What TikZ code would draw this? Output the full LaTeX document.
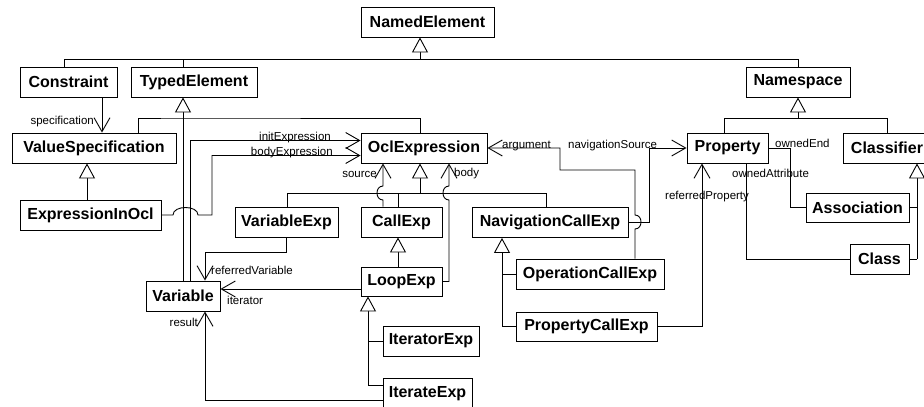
\documentclass[tikz,border=0pt]{standalone}
\usepackage{fontspec}
\setmainfont{Liberation Sans}
\usetikzlibrary{arrows.meta}
\begin{document}
\begin{tikzpicture}[x=1pt,y=-1pt,
  cls/.style={draw, line width=0.9pt, minimum height=30pt, inner sep=0pt, font=\fontsize{16}{19}\selectfont\bfseries},
  lbl/.style={inner sep=0pt, font=\fontsize{11.5}{13}\selectfont},
  ln/.style={draw, line width=0.9pt},
  gen/.style={ln, -{Triangle[length=15pt,width=16pt,fill=white]}},
  nav/.style={ln, -{Straight Barb[length=14pt,width=16pt]}}]
\useasboundingbox (0,0) rectangle (924,407);
\clip (0,0) rectangle (924,407);
% classes
\node[cls,minimum width=133pt] (NamedElement) at (427.5,22) {NamedElement};
\node[cls,minimum width=97pt] (Constraint) at (68.5,82) {Constraint};
\node[cls,minimum width=126pt] (TypedElement) at (194,82) {TypedElement};
\node[cls,minimum width=104pt] (Namespace) at (798,82) {Namespace};
\node[cls,minimum width=164pt] (ValueSpecification) at (94,148) {ValueSpecification};
\node[cls,minimum width=126pt] (OclExpression) at (424,148) {OclExpression};
\node[cls,minimum width=81pt] (Property) at (727.5,148) {Property};
\node[cls,minimum width=88pt] (Classifier) at (887,148) {Classifier};
\node[cls,minimum width=141pt] (ExpressionInOcl) at (90.5,215) {ExpressionInOcl};
\node[cls,minimum width=103pt] (VariableExp) at (286.5,222) {VariableExp};
\node[cls,minimum width=81pt] (CallExp) at (401.5,222) {CallExp};
\node[cls,minimum width=156pt] (NavigationCallExp) at (550,222.5) {NavigationCallExp};
\node[cls,minimum width=103pt,minimum height=29pt] (Association) at (857.5,207.5) {Association};
\node[cls,minimum width=59pt] (Class) at (879.5,259) {Class};
\node[cls,minimum width=148pt] (OperationCallExp) at (590,274) {OperationCallExp};
\node[cls,minimum width=81pt,minimum height=29pt] (LoopExp) at (401.5,281.5) {LoopExp};
\node[cls,minimum width=74pt] (Variable) at (183,296) {Variable};
\node[cls,minimum width=141pt,minimum height=29pt] (PropertyCallExp) at (586.5,326.5) {PropertyCallExp};
\node[cls,minimum width=96pt] (IteratorExp) at (431,341) {IteratorExp};
\node[cls,minimum width=89pt] (IterateExp) at (427.5,393.5) {IterateExp};
% junctions
\coordinate (jNE) at (420,59);
\coordinate (jTE) at (183,118);
\coordinate (jNS) at (798,118);
\coordinate (jOE) at (420,193);
\coordinate (jLE) at (368,385);
\coordinate (jNC) at (502,326.5);
\coordinate (jCL) at (917,259);
% NamedElement generalization
\draw[ln] ([xshift=-4.5]Constraint.north) -- (64,59) -- (798,59) -- (Namespace.north);
\draw[ln] ([xshift=-11]TypedElement.north) -- (183,59);
\draw[gen] (jNE) -- ([xshift=-7.5]NamedElement.south);
% TypedElement generalization
\draw[gen] (Variable.north) -- ([xshift=-11]TypedElement.south);
\draw[ln] ([xshift=44]ValueSpecification.north) -- (138,118) -- (jTE) -- (420,118) -- ([xshift=-4]OclExpression.north);
% Namespace generalization
\draw[gen] (jNS) -- (Namespace.south);
\draw[ln] ([xshift=-3.5]Property.north) -- (724,118) -- (887,118) -- (Classifier.north);
% specification
\draw[nav] ([xshift=33.5]Constraint.south) -- ([xshift=8]ValueSpecification.north);
\node[lbl,anchor=east] at (94,122) {specification};
% ExpressionInOcl generalization
\draw[gen] ([xshift=-3.5]ExpressionInOcl.north) -- ([xshift=-7]ValueSpecification.south);
% initExpression
\draw[nav] ([xshift=7]Variable.north) -- (190,140.5) -- ([yshift=7.5]OclExpression.west);
\node[lbl,anchor=base east] at (331,140.5) {initExpression};
% bodyExpression
\draw[nav] (ExpressionInOcl.east) -- (173,215) .. controls (173,205) and (198,205) .. (198,215) -- (212,215) -- (212,155.5) -- ([yshift=-7.5]OclExpression.west);
\node[lbl,anchor=base east] at (333,155.5) {bodyExpression};
% OclExpression generalization
\draw[gen] (jOE) -- ([xshift=-4]OclExpression.south);
\draw[ln] ([xshift=0.5]VariableExp.north) -- (287,193) -- (546,193) -- ([xshift=-4]NavigationCallExp.north);
\draw[ln] ([xshift=-3.5]CallExp.north) -- (398,193);
% source
\draw[nav] ([xshift=-18.5]CallExp.north) -- (383,200) .. controls (375,200) and (375,186) .. (383,186) -- ([xshift=-41]OclExpression.south);
\node[lbl,anchor=east] at (377,174) {source};
% body
\draw[nav] (LoopExp.east) -- (449,281.5) -- (449,200) .. controls (441,200) and (441,186) .. (449,186) -- ([xshift=25]OclExpression.south);
\node[lbl,anchor=west] at (454,174) {body};
% CallExp generalization
\draw[gen] ([xshift=-3.5]LoopExp.north) -- ([xshift=-3.5]CallExp.south);
% referredVariable
\draw[nav] (VariableExp.south) -- (286.5,252) -- (205,252) -- ([xshift=22]Variable.north);
\node[lbl,anchor=west] at (211,270) {referredVariable};
% iterator
\draw[nav] ([yshift=-7.5]LoopExp.west) -- ([yshift=7]Variable.east);
\node[lbl,anchor=west] at (227,300) {iterator};
% LoopExp generalization
\draw[gen] (jLE) -- ([xshift=-33.5]LoopExp.south);
\draw[ln] (IteratorExp.west) -- (368,341);
\draw[ln] ([yshift=8.5]IterateExp.west) -- (jLE);
% result
\draw[nav] ([yshift=-6.5]IterateExp.west) -- (205,400) -- ([xshift=22]Variable.south);
\node[lbl,anchor=east] at (198,322) {result};
% NavigationCallExp generalization
\draw[gen] (jNC) -- ([xshift=-48]NavigationCallExp.south);
\draw[ln] (OperationCallExp.west) -- (502,274);
\draw[ln] (PropertyCallExp.west) -- (jNC);
% argument
\draw[nav] ([xshift=45]OperationCallExp.north) -- (635,229) .. controls (643,229) and (643,215) .. (635,215) -- (635,170) -- (560,170) -- (560,148) -- (OclExpression.east);
\node[lbl,anchor=base west] at (502,148) {argument};
% navigationSource
\draw[nav] (NavigationCallExp.east) -- (649,222.5) -- (649,148) -- (Property.west);
\node[lbl,anchor=base west] at (568,148) {navigationSource};
% ownedEnd
\draw[ln] (Property.east) -- (790,148) -- (790,207.5) -- (Association.west);
\node[lbl,anchor=base west] at (775,147.5) {ownedEnd};
% ownedAttribute
\draw[ln] ([xshift=18.5]Property.south) -- (746,259) -- (Class.west);
\node[lbl,anchor=west] at (732,173) {ownedAttribute};
% referredProperty
\draw[nav] (PropertyCallExp.east) -- (702,326.5) -- ([xshift=-25.5]Property.south);
\node[lbl,anchor=west] at (665,197) {referredProperty};
% Classifier generalization
\draw[gen] (jCL) -- ([xshift=30]Classifier.south);
\draw[ln] (Association.east) -- (917,207.5);
\draw[ln] (Class.east) -- (jCL);
\end{tikzpicture}
\end{document}
